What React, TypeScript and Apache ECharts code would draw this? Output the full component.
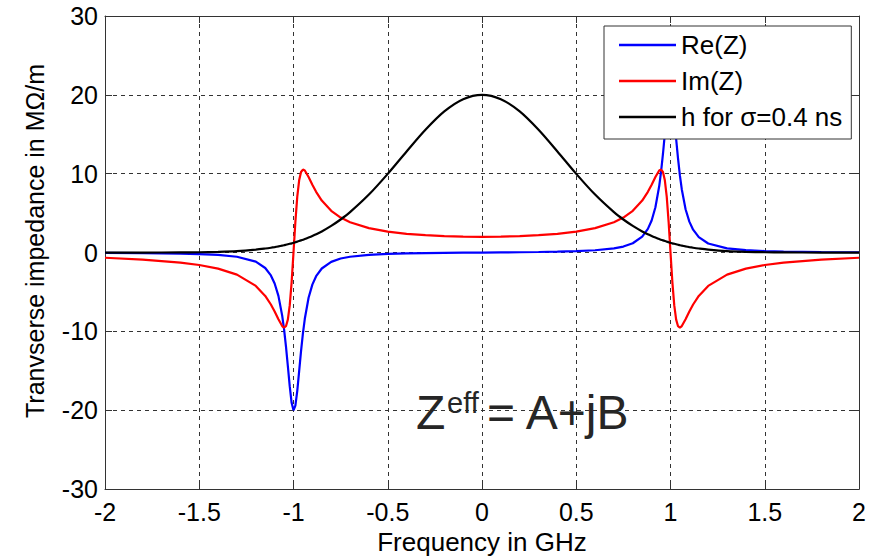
import React, { useEffect, useRef } from 'react';
import * as echarts from 'echarts';

// Frequency samples in GHz
const freq = [
  -2, -1.8, -1.6, -1.5, -1.4, -1.3, -1.2, -1.15, -1.12, -1.1,
  -1.08, -1.06, -1.05, -1.04, -1.03, -1.02, -1.01, -1,
  -0.99, -0.98, -0.97, -0.96, -0.95, -0.94, -0.92, -0.9, -0.88, -0.85,
  -0.8, -0.75, -0.7, -0.6, -0.5, -0.4, -0.3, -0.2, -0.1,
  0,
  0.1, 0.2, 0.3, 0.4, 0.5, 0.6, 0.7, 0.75, 0.8,
  0.85, 0.88, 0.9, 0.92, 0.94, 0.95, 0.96, 0.97, 0.98, 0.99,
  1, 1.01, 1.02, 1.03, 1.04, 1.05, 1.06, 1.08, 1.1, 1.12,
  1.15, 1.2, 1.3, 1.4, 1.5, 1.6, 1.8, 2,
];

// Re(Z) in MOhm/m
const reZ = [
  -0.04, -0.07, -0.13, -0.19, -0.3, -0.53, -1.15, -1.96, -2.9, -3.92,
  -5.49, -8.0, -9.75, -11.9, -14.39, -16.95, -19.05, -20,
  -19.42, -17.54, -15.04, -12.5, -10.25, -8.4, -5.74, -4.07, -3.0, -2.02,
  -1.18, -0.76, -0.53, -0.29, -0.18, -0.11, -0.07, -0.04, -0.02,
  0,
  0.02, 0.04, 0.07, 0.11, 0.18, 0.29, 0.53, 0.76, 1.18,
  2.02, 3.0, 4.07, 5.74, 8.4, 10.25, 12.5, 15.04, 17.54, 19.42,
  20, 19.05, 16.95, 14.39, 11.9, 9.75, 8.0, 5.49, 3.92, 2.9,
  1.96, 1.15, 0.53, 0.3, 0.19, 0.13, 0.07, 0.04,
];

// Im(Z) in MOhm/m
const imZ = [
  -0.66, -0.89, -1.27, -1.58, -2.04, -2.8, -4.23, -5.5, -6.59, -7.47,
  -8.46, -9.32, -9.52, -9.34, -8.51, -6.71, -3.79, 0,
  3.9, 7.09, 9.16, 10.21, 10.52, 10.4, 9.58, 8.6, 7.7, 6.59,
  5.29, 4.44, 3.85, 3.1, 2.66, 2.38, 2.2, 2.08, 2.02,
  2.0,
  2.02, 2.08, 2.2, 2.38, 2.66, 3.1, 3.85, 4.44, 5.29,
  6.59, 7.7, 8.6, 9.58, 10.4, 10.52, 10.21, 9.16, 7.09, 3.9,
  0, -3.79, -6.71, -8.51, -9.34, -9.52, -9.32, -8.46, -7.47, -6.59,
  -5.5, -4.23, -2.8, -2.04, -1.58, -1.27, -0.89, -0.66,
];

// h for sigma = 0.4 ns
const hSpec = [
  0, 0, 0.02, 0.04, 0.09, 0.18, 0.37, 0.51, 0.61, 0.69,
  0.78, 0.88, 0.93, 0.99, 1.05, 1.11, 1.17, 1.24,
  1.31, 1.39, 1.46, 1.54, 1.63, 1.71, 1.9, 2.1, 2.32, 2.68,
  3.38, 4.19, 5.12, 7.35, 9.98, 12.82, 15.57, 17.9, 19.45,
  20,
  19.45, 17.9, 15.57, 12.82, 9.98, 7.35, 5.12, 4.19, 3.38,
  2.68, 2.32, 2.1, 1.9, 1.71, 1.63, 1.54, 1.46, 1.39, 1.31,
  1.24, 1.17, 1.11, 1.05, 0.99, 0.93, 0.88, 0.78, 0.69, 0.61,
  0.51, 0.37, 0.18, 0.09, 0.04, 0.02, 0, 0,
];

const seriesNames = ['Re(Z)', 'Im(Z)', 'h for \u03c3=0.4 ns'];
const seriesColors = ['#0000ff', '#ff0000', '#000000'];

const xMin = -2, xMax = 2, xStep = 0.5;
const yMin = -30, yMax = 30, yStep = 10;

const FONT = '"Liberation Sans", Arial, Helvetica, sans-serif';

export default function App() {
  const ref = useRef<HTMLDivElement>(null);

  useEffect(() => {
    document.body.style.margin = '0';
    if (!ref.current) return;
    const chart = echarts.init(ref.current, undefined, { renderer: 'svg' });
    const pairs = (ys: number[]) => freq.map((f, i) => [f, ys[i]]);
    const frameColor = '#333';

    const baseX = {
      type: 'value' as const,
      min: xMin,
      max: xMax,
      interval: xStep,
    };
    const baseY = {
      type: 'value' as const,
      min: yMin,
      max: yMax,
      interval: yStep,
    };

    chart.setOption({
      animation: false,
      backgroundColor: '#ffffff',
      grid: { left: 105, right: 25, top: 16, bottom: 64, containLabel: false },
      xAxis: [
        {
          ...baseX,
          position: 'bottom',
          axisLine: { show: true, onZero: false, lineStyle: { color: frameColor, width: 1 } },
          axisTick: { show: true, inside: true, length: 7, lineStyle: { color: frameColor } },
          axisLabel: { fontSize: 25, color: '#000', margin: 10, fontFamily: FONT },
          splitLine: { show: true, lineStyle: { color: '#333', width: 1, type: [4, 4] } },
          name: 'Frequency in GHz',
          nameLocation: 'middle',
          nameGap: 38,
          nameTextStyle: { fontSize: 26, color: '#000', fontFamily: FONT },
        },
        {
          ...baseX,
          position: 'top',
          axisLine: { show: true, onZero: false, lineStyle: { color: frameColor, width: 1 } },
          axisTick: { show: true, inside: true, length: 7, lineStyle: { color: frameColor } },
          axisLabel: { show: false },
          splitLine: { show: false },
        },
      ],
      yAxis: [
        {
          ...baseY,
          position: 'left',
          axisLine: { show: true, onZero: false, lineStyle: { color: frameColor, width: 1 } },
          axisTick: { show: true, inside: true, length: 7, lineStyle: { color: frameColor } },
          axisLabel: { fontSize: 25, color: '#000', margin: 7, fontFamily: FONT },
          splitLine: { show: true, lineStyle: { color: '#333', width: 1, type: [4, 4] } },
        },
        {
          ...baseY,
          position: 'right',
          axisLine: { show: true, onZero: false, lineStyle: { color: frameColor, width: 1 } },
          axisTick: { show: true, inside: true, length: 7, lineStyle: { color: frameColor } },
          axisLabel: { show: false },
          splitLine: { show: false },
        },
      ],
      legend: {
        orient: 'vertical',
        left: 604,
        top: 26,
        padding: [6, 9, 9, 15],
        itemGap: 10,
        itemWidth: 57,
        itemHeight: 2.5,
        icon: 'rect',
        backgroundColor: '#ffffff',
        borderColor: '#333',
        borderWidth: 1,
        borderRadius: 0,
        textStyle: { fontSize: 26, color: '#000', fontFamily: FONT },
        data: seriesNames,
      },
      series: [
        { data: pairs(reZ) },
        { data: pairs(imZ) },
        { data: pairs(hSpec), smooth: 0.3 },
      ].map((s, i) => ({
        type: 'line',
        name: seriesNames[i],
        xAxisIndex: 0,
        yAxisIndex: 0,
        symbol: 'none',
        showSymbol: false,
        color: seriesColors[i],
        lineStyle: { color: seriesColors[i], width: 2.2 },
        z: 2 + i,
        ...s,
      })),
      graphic: [
        {
          type: 'text',
          x: 35,
          y: 241,
          rotation: Math.PI / 2,
          style: {
            text: 'Tranvserse impedance in M\u03a9/m',
            fontSize: 25,
            fontFamily: FONT,
            fill: '#000',
            align: 'center',
            verticalAlign: 'middle',
          },
        },
        {
          type: 'text',
          x: 416,
          y: 412,
          z: 10,
          style: { text: 'Z', fontSize: 48, fontFamily: FONT, fill: '#262626', align: 'left', verticalAlign: 'middle' },
        },
        {
          type: 'text',
          x: 447,
          y: 403,
          z: 10,
          style: { text: 'eff', fontSize: 29, fontFamily: FONT, fill: '#262626', align: 'left', verticalAlign: 'middle' },
        },
        {
          type: 'text',
          x: 487,
          y: 412,
          z: 10,
          style: { text: '= A+jB', fontSize: 48, fontFamily: FONT, fill: '#262626', align: 'left', verticalAlign: 'middle' },
        },
      ],
    });

    return () => chart.dispose();
  }, []);

  return (
    <div
      ref={ref}
      style={{ position: 'fixed', left: 0, top: 0, width: 884, height: 560 }}
    />
  );
}
